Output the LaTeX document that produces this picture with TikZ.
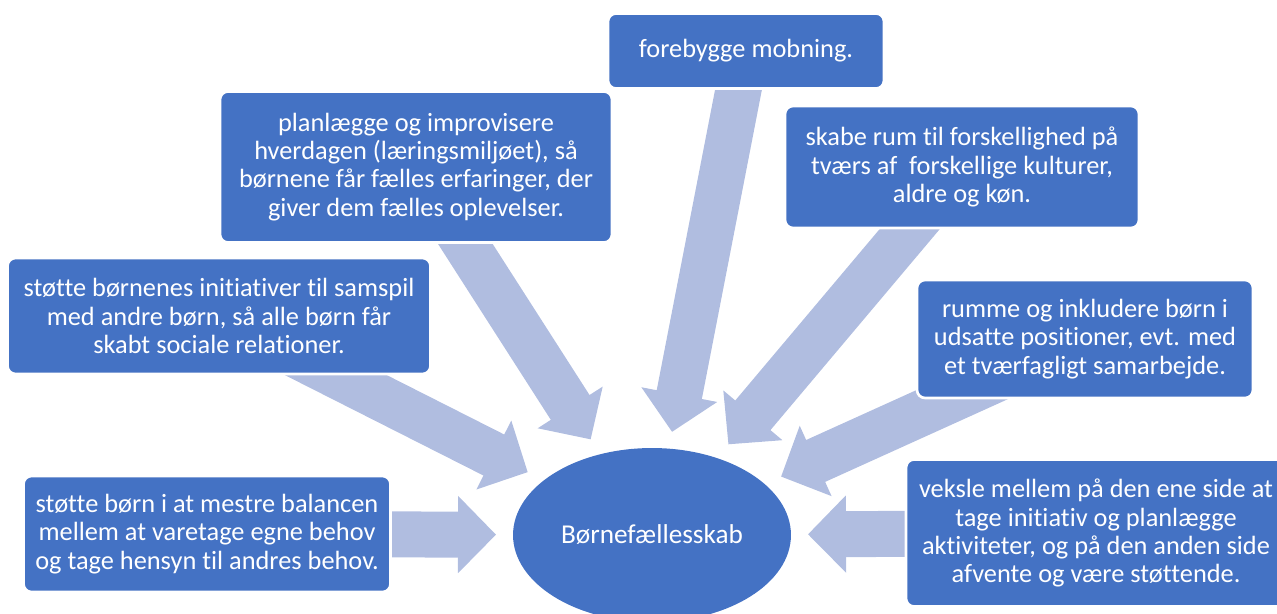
\documentclass[tikz,border=0pt]{standalone}
\usepackage{fontspec}
\setmainfont{Carlito}[Ligatures={NoCommon}]
\usetikzlibrary{arrows.meta,backgrounds,shapes.geometric}
\definecolor{boxblue}{HTML}{4472C4}
\definecolor{arrowblue}{RGB}{176,189,224}
\tikzset{
  topic/.style={rectangle, rounded corners=0.16cm, fill=boxblue, draw=white, line width=1.5pt,
    text=white, align=center, inner sep=0pt, font=\fontsize{15}{16}\selectfont},
  hub/.style={ellipse, fill=boxblue, text=white, inner sep=0pt, outer sep=0.34cm,
    minimum width=5.56cm, minimum height=3.48cm, font=\fontsize{15.5}{16}\selectfont},
  spoke/.style={draw=arrowblue, line width=0.92cm, -{Triangle[length=0.76cm 0, width=1.5cm 0]}}
}

\begin{document}
\begin{tikzpicture}[x=0.02cm, y=-0.02cm]
\useasboundingbox (0,0) rectangle (1277,613);
\clip (0,0) rectangle (1277,613);

\node[hub] (faelles) at (652,535) {Børnefællesskab};

\node[topic, minimum width=5.52cm, minimum height=1.5cm] (mobning) at (746,51) {forebygge mobning.};
\node[topic, minimum width=7.84cm, minimum height=3.02cm] (hverdag) at (416,167)
  {planlægge og improvisere\\ hverdagen (læringsmiljøet), så\\ børnene får fælles erfaringer, der\\ giver dem fælles oplevelser.};
\node[topic, minimum width=7.08cm, minimum height=2.44cm] (kulturer) at (962,167)
  {skabe rum til forskellighed på\\ tværs af\ \ forskellige kulturer,\\ aldre og køn.};
\node[topic, minimum width=8.46cm, minimum height=2.32cm] (samspil) at (219,316)
  {støtte børnenes initiativer til samspil\\ med andre børn, så alle børn får\\ skabt sociale relationer.};
\node[topic, minimum width=6.72cm, minimum height=2.36cm] (inkludere) at (1085,339)
  {rumme og inkludere børn i\\ udsatte positioner, evt. med\\ et tværfagligt samarbejde.};
\node[topic, minimum width=7.34cm, minimum height=2.32cm] (balance) at (207,534)
  {støtte børn i at mestre balancen\\ mellem at varetage egne behov\\ og tage hensyn til andres behov.};
\node[topic, minimum width=7.6cm, minimum height=2.94cm] (veksle) at (1096,533)
  {veksle mellem på den ene side at\\ tage initiativ og planlægge\\ aktiviteter, og på den anden side\\ afvente og være støttende.};

\begin{scope}[on background layer]
\draw[spoke] (mobning.center) -- (faelles);
\draw[spoke] (hverdag.center) -- (faelles);
\draw[spoke] (kulturer.center) -- (faelles);
\draw[spoke] (samspil.center) -- (faelles);
\draw[spoke] (inkludere.center) -- (faelles);
\draw[spoke] (balance.center) -- (faelles);
\draw[spoke] (veksle.center) -- (faelles);
\end{scope}
\end{tikzpicture}
\end{document}
